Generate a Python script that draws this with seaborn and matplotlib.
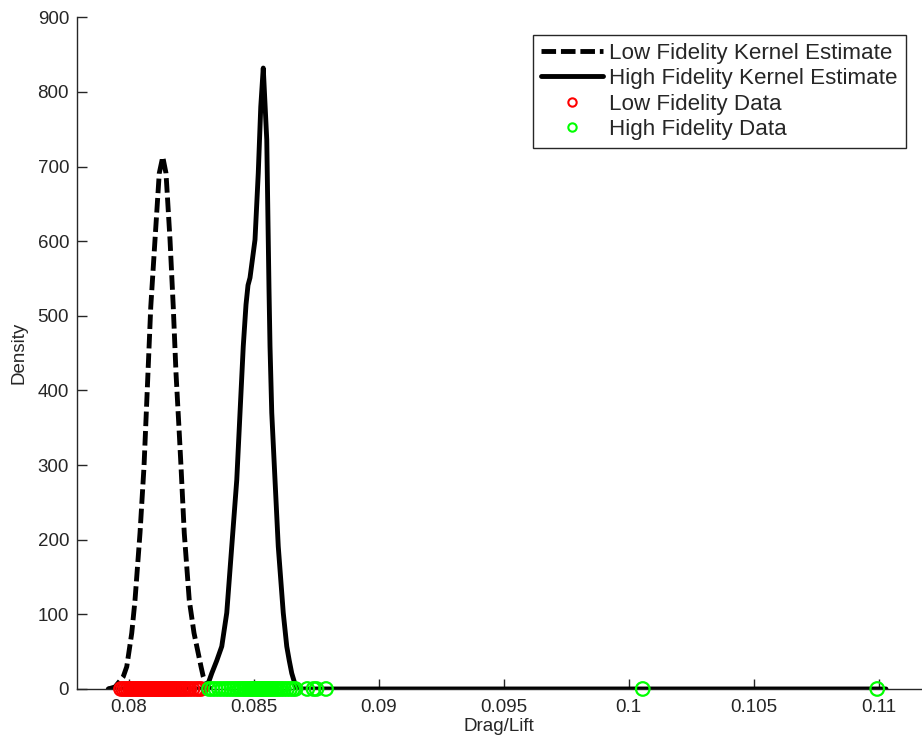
import numpy as np
import pandas as pd
import matplotlib
matplotlib.use("Agg")
import matplotlib.pyplot as plt
import seaborn as sns
from matplotlib.lines import Line2D
from matplotlib.ticker import FixedLocator, FixedFormatter

# ---- data ----
lf_kde_x = [0.07919, 0.07946, 0.07979, 0.07993, 0.08013, 0.08026, 0.08046, 0.08062,
            0.08073, 0.08089, 0.08106, 0.08123, 0.08137, 0.08150, 0.08166, 0.08179,
            0.08190, 0.08203, 0.08210, 0.08223, 0.08243, 0.08262, 0.08290, 0.08299,
            0.08314, 0.08334]
lf_kde_y = [0, 2.7, 16.5, 29.9, 75, 119, 209, 298,
            385, 512, 602, 691, 713, 691, 602, 512,
            423, 343, 298, 209, 119, 75, 30, 16.5,
            2.7, 0]

hf_kde_x = [0.07919, 0.08290, 0.08313, 0.08333, 0.08353, 0.08373, 0.08393, 0.08413,
            0.08433, 0.08446, 0.08459, 0.08470, 0.08478, 0.08486, 0.08506, 0.08519,
            0.08529, 0.08539, 0.08553, 0.08562, 0.08566, 0.08573, 0.08586, 0.08599,
            0.08619, 0.08633, 0.08643, 0.08653, 0.08670, 0.08690, 0.11030]
hf_kde_y = [0, 0, 2, 21, 38, 57, 102, 191,
            280, 370, 459, 515, 541, 551, 602, 691,
            780, 832, 736, 535, 459, 370, 280, 191,
            102, 57, 38, 21, 2, 0, 0]

lf_data = [0.07970, 0.07979, 0.07988, 0.07997, 0.08006, 0.08013, 0.08021, 0.08029,
           0.08036, 0.08043, 0.08050, 0.08057, 0.08063, 0.08069, 0.08075, 0.08081,
           0.08087, 0.08093, 0.08099, 0.08104, 0.08110, 0.08116, 0.08121, 0.08127,
           0.08133, 0.08139, 0.08144, 0.08150, 0.08156, 0.08162, 0.08169, 0.08175,
           0.08182, 0.08189, 0.08197, 0.08205, 0.08214, 0.08223, 0.08233, 0.08244,
           0.08256, 0.08269, 0.08280, 0.08290]
hf_data = [0.08322, 0.08335, 0.08348, 0.08362, 0.08375, 0.08388, 0.08400, 0.08412,
           0.08423, 0.08434, 0.08444, 0.08454, 0.08463, 0.08472, 0.08481, 0.08489,
           0.08497, 0.08504, 0.08511, 0.08517, 0.08523, 0.08529, 0.08535, 0.08541,
           0.08547, 0.08553, 0.08560, 0.08567, 0.08575, 0.08583, 0.08592, 0.08601,
           0.08611, 0.08622, 0.08634, 0.08646, 0.08658, 0.08668, 0.08715, 0.08740,
           0.08752, 0.08790, 0.10057, 0.10995]

x_ticks = [0.08, 0.085, 0.09, 0.095, 0.1, 0.105, 0.11]
x_tick_labels = ["0.08", "0.085", "0.09", "0.095", "0.1", "0.105", "0.11"]
y_ticks = [0, 100, 200, 300, 400, 500, 600, 700, 800, 900]

legend_labels = ["Low Fidelity Kernel Estimate", "High Fidelity Kernel Estimate",
                 "Low Fidelity Data", "High Fidelity Data"]

# ---- style ----
sns.set_style("ticks")
plt.rcParams["font.family"] = ["Liberation Sans", "DejaVu Sans"]
axis_color = "#262626"

fig = plt.figure(figsize=(9.22, 7.45), dpi=100)
ax = fig.add_axes([0.0832, 0.0752, 1.0 - 0.0832, 0.9768 - 0.0752])

lw = 3.5
sns.lineplot(x=lf_kde_x, y=lf_kde_y, ax=ax, color="black", linewidth=lw,
             linestyle=(0, (3, 1)), sort=False, estimator=None, zorder=2)
sns.lineplot(x=hf_kde_x, y=hf_kde_y, ax=ax, color="black", linewidth=lw,
             sort=False, estimator=None, zorder=2)

sns.scatterplot(x=lf_data, y=np.zeros(len(lf_data)), ax=ax, color="#ff0000",
                s=95, linewidth=1.6, marker="o", zorder=3)
coll_lf = ax.collections[-1]
coll_lf.set_facecolor("none")
coll_lf.set_edgecolor("#ff0000")
sns.scatterplot(x=hf_data, y=np.zeros(len(hf_data)), ax=ax, color="#00ff00",
                s=95, linewidth=1.6, marker="o", zorder=3)
coll_hf = ax.collections[-1]
coll_hf.set_facecolor("none")
coll_hf.set_edgecolor("#00ff00")
for c in (coll_lf, coll_hf):
    c.set_clip_on(False)

ax.set_xlim(0.077928, 0.11174)
ax.set_ylim(0, 900)
ax.xaxis.set_major_locator(FixedLocator(x_ticks))
ax.xaxis.set_major_formatter(FixedFormatter(x_tick_labels))
ax.set_yticks(y_ticks)

sns.despine(ax=ax)
for side in ("left", "bottom"):
    ax.spines[side].set_color(axis_color)
    ax.spines[side].set_linewidth(1.0)
ax.tick_params(axis="both", direction="in", length=7, width=1.0,
               colors=axis_color, labelsize=13.5)
ax.tick_params(axis="x", pad=7)
ax.tick_params(axis="y", pad=5.5)

ax.set_xlabel("Drag/Lift", fontsize=13.5, color=axis_color, labelpad=2)
ax.set_ylabel("Density", fontsize=13.5, color=axis_color, labelpad=7)

handles = [
    Line2D([], [], color="black", linewidth=lw, linestyle=(0, (3, 1))),
    Line2D([], [], color="black", linewidth=lw),
    Line2D([], [], color="#ff0000", linestyle="none", marker="o",
           markerfacecolor="none", markersize=6, markeredgewidth=1.5),
    Line2D([], [], color="#00ff00", linestyle="none", marker="o",
           markerfacecolor="none", markersize=6, markeredgewidth=1.5),
]
leg = ax.legend(handles, legend_labels, loc="upper left",
                bbox_to_anchor=(533 / 922, 1 - 35 / 745),
                bbox_transform=fig.transFigure, borderaxespad=0,
                fontsize=16.1, frameon=True, fancybox=False, framealpha=1,
                edgecolor=axis_color, handlelength=2.75, handletextpad=0.3,
                labelspacing=0.19, borderpad=0.36, numpoints=1)
leg.get_frame().set_linewidth(1.0)

fig.savefig("out.png", dpi=100)
